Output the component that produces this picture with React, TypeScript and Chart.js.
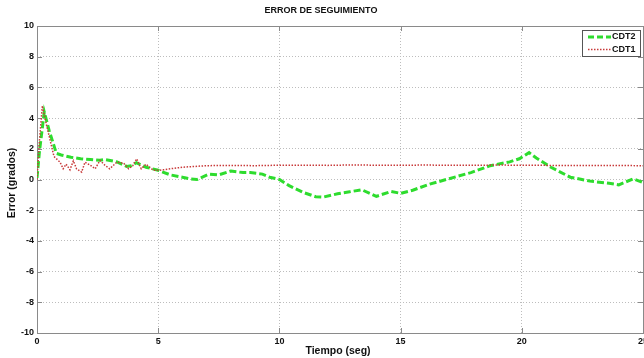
import React, { useEffect, useRef } from "react";
import { Chart, registerables } from "chart.js";

Chart.register(...registerables);

const titleText = "ERROR DE SEGUIMIENTO";
const xTitle = "Tiempo (seg)";
const yTitle = "Error (grados)";
const seriesNames = ["CDT2", "CDT1"];
const xTicks = [0, 5, 10, 15, 20, 25];
const yTicks = [-10, -8, -6, -4, -2, 0, 2, 4, 6, 8, 10];

const cdt2Time = [0, 0.1, 0.3, 0.5, 0.8, 1.0, 1.4, 1.8, 2.2, 2.6, 2.8, 3.3, 3.7, 3.9, 4.1, 4.5, 5.0, 5.5, 6.0, 6.3, 6.6, 7.1, 7.5, 8.0, 8.5, 8.8, 9.3, 9.6, 10.0, 10.4, 11.0, 11.5, 11.8, 12.4, 12.9, 13.4, 14.0, 14.6, 15.0, 15.5, 16.2, 17.0, 17.9, 18.7, 19.5, 19.9, 20.3, 20.6, 21.2, 22.0, 22.8, 23.6, 24.0, 24.6, 25.0];
const cdt2Val = [0.1, 1.8, 4.4, 3.2, 1.7, 1.6, 1.45, 1.35, 1.3, 1.25, 1.3, 1.15, 0.85, 0.9, 1.1, 0.8, 0.6, 0.3, 0.15, 0.05, 0.0, 0.35, 0.3, 0.55, 0.45, 0.45, 0.35, 0.15, 0.0, -0.4, -0.85, -1.12, -1.15, -0.93, -0.8, -0.67, -1.1, -0.78, -0.9, -0.7, -0.3, 0.05, 0.45, 0.9, 1.15, 1.35, 1.75, 1.4, 0.8, 0.15, -0.1, -0.25, -0.35, 0.05, -0.2];

const cdt1Time = [0, 0.1, 0.22, 0.4, 0.7, 0.95, 1.08, 1.2, 1.36, 1.5, 1.63, 1.84, 1.98, 2.2, 2.4, 2.6, 2.8, 3.0, 3.3, 3.57, 3.78, 3.95, 4.11, 4.3, 4.5, 4.8, 5.07, 5.5, 6.0, 6.5, 7.0, 8.0, 9.0, 10.0, 11.0, 12.0, 13.0, 14.0, 15.0, 16.0, 17.0, 18.0, 19.0, 20.0, 21.0, 22.0, 23.0, 24.0, 25.0];
const cdt1Val = [0.0, 2.5, 4.8, 3.5, 1.5, 1.13, 0.7, 1.0, 0.63, 1.22, 0.7, 0.48, 1.13, 0.93, 0.7, 1.24, 0.93, 0.7, 1.13, 1.07, 0.7, 0.9, 1.35, 0.7, 1.0, 0.6, 0.6, 0.7, 0.8, 0.85, 0.9, 0.92, 0.9, 0.93, 0.93, 0.92, 0.95, 0.93, 0.93, 0.94, 0.93, 0.93, 0.94, 0.93, 0.92, 0.92, 0.92, 0.91, 0.9];

const GREEN = "#2edc2e";
const RED = "#c83a3a";
const FONT = "'Liberation Sans', Arial, sans-serif";

const decor = {
  id: "decor",
  beforeDatasetsDraw(chart: any) {
    const { ctx, chartArea: a } = chart;
    ctx.save();
    ctx.strokeStyle = "#8a8a8a";
    ctx.lineWidth = 1;
    ctx.strokeRect(a.left + 0.5, a.top + 0.5, a.right - a.left, a.bottom - a.top);
    const xs = chart.scales.x;
    const ys = chart.scales.y;
    ctx.beginPath();
    xTicks.forEach((v) => {
      const px = Math.round(xs.getPixelForValue(v)) + 0.5;
      ctx.moveTo(px, a.bottom);
      ctx.lineTo(px, a.bottom - 5);
      ctx.moveTo(px, a.top);
      ctx.lineTo(px, a.top + 5);
    });
    yTicks.forEach((v) => {
      const py = Math.round(ys.getPixelForValue(v)) + 0.5;
      ctx.moveTo(a.left, py);
      ctx.lineTo(a.left + 5, py);
      ctx.moveTo(a.right, py);
      ctx.lineTo(a.right - 5, py);
    });
    ctx.stroke();
    ctx.restore();
  },
  afterDraw(chart: any) {
    const { ctx } = chart;
    ctx.save();
    ctx.fillStyle = "#111";
    ctx.font = `bold 9px ${FONT}`;
    ctx.textAlign = "center";
    ctx.textBaseline = "middle";
    ctx.fillText(titleText, 321, 11);
    ctx.font = `bold 10.5px ${FONT}`;
    ctx.fillText(xTitle, 338, 351);
    ctx.save();
    ctx.translate(12, 183);
    ctx.rotate(-Math.PI / 2);
    ctx.fillText(yTitle, 0, 0);
    ctx.restore();
    // legend
    const lx = 582, ly = 30, lw = 58, lh = 26;
    ctx.fillStyle = "#fff";
    ctx.fillRect(lx, ly, lw, lh);
    ctx.strokeStyle = "#555";
    ctx.lineWidth = 1;
    ctx.strokeRect(lx + 0.5, ly + 0.5, lw, lh);
    ctx.lineWidth = 3;
    ctx.strokeStyle = GREEN;
    ctx.setLineDash([6, 3]);
    ctx.beginPath();
    ctx.moveTo(588, 37);
    ctx.lineTo(611, 37);
    ctx.stroke();
    ctx.lineWidth = 1.5;
    ctx.strokeStyle = RED;
    ctx.setLineDash([1.5, 1.5]);
    ctx.beginPath();
    ctx.moveTo(588, 49.5);
    ctx.lineTo(611, 49.5);
    ctx.stroke();
    ctx.setLineDash([]);
    ctx.fillStyle = "#111";
    ctx.font = `bold 9px ${FONT}`;
    ctx.textAlign = "left";
    ctx.fillText(seriesNames[0], 612, 37);
    ctx.fillText(seriesNames[1], 612, 50);
    ctx.restore();
  },
};

export default function App() {
  const ref = useRef<HTMLCanvasElement | null>(null);
  useEffect(() => {
    document.body.style.margin = "0";
    const canvas = ref.current!;
    const chart = new Chart(canvas, {
      type: "line",
      data: {
        datasets: [
          {
            label: seriesNames[1],
            data: cdt1Time.map((t, i) => ({ x: t, y: cdt1Val[i] })),
            borderColor: RED,
            borderWidth: 1.5,
            borderDash: [1.5, 1.5],
            pointRadius: 0,
            tension: 0,
          },
          {
            label: seriesNames[0],
            data: cdt2Time.map((t, i) => ({ x: t, y: cdt2Val[i] })),
            borderColor: GREEN,
            borderWidth: 3,
            borderDash: [7, 3],
            pointRadius: 0,
            tension: 0,
          },
        ],
      },
      options: {
        animation: false,
        responsive: false,
        maintainAspectRatio: false,
        layout: { padding: { top: 26, right: 37, left: 0, bottom: 0 } },
        plugins: { legend: { display: false }, tooltip: { enabled: false }, title: { display: false } },
        scales: {
          x: {
            type: "linear",
            min: 0,
            max: 25,
            afterBuildTicks: (s: any) => {
              s.ticks = xTicks.map((v) => ({ value: v }));
            },
            afterFit: (s: any) => {
              s.height = 25;
            },
            border: { display: false, dash: [1, 2] },
            grid: { color: "#bdbdbd", drawTicks: false },
            ticks: { padding: 3, color: "#111", font: { family: FONT, size: 9, weight: "bold" }, maxRotation: 0 },
          },
          y: {
            min: -10,
            max: 10,
            afterBuildTicks: (s: any) => {
              s.ticks = yTicks.map((v) => ({ value: v }));
            },
            afterFit: (s: any) => {
              s.width = 37;
            },
            border: { display: false, dash: [1, 2] },
            grid: { color: "#bdbdbd", drawTicks: false },
            ticks: { padding: 3, color: "#111", font: { family: FONT, size: 9, weight: "bold" } },
          },
        },
      } as any,
      plugins: [decor],
    });
    return () => chart.destroy();
  }, []);
  return (
    <div style={{ position: "fixed", left: 0, top: 0, width: 644, height: 358, overflow: "hidden", background: "#fff" }}>
      <canvas ref={ref} width={680} height={358} style={{ width: 680, height: 358, display: "block" }} />
    </div>
  );
}
